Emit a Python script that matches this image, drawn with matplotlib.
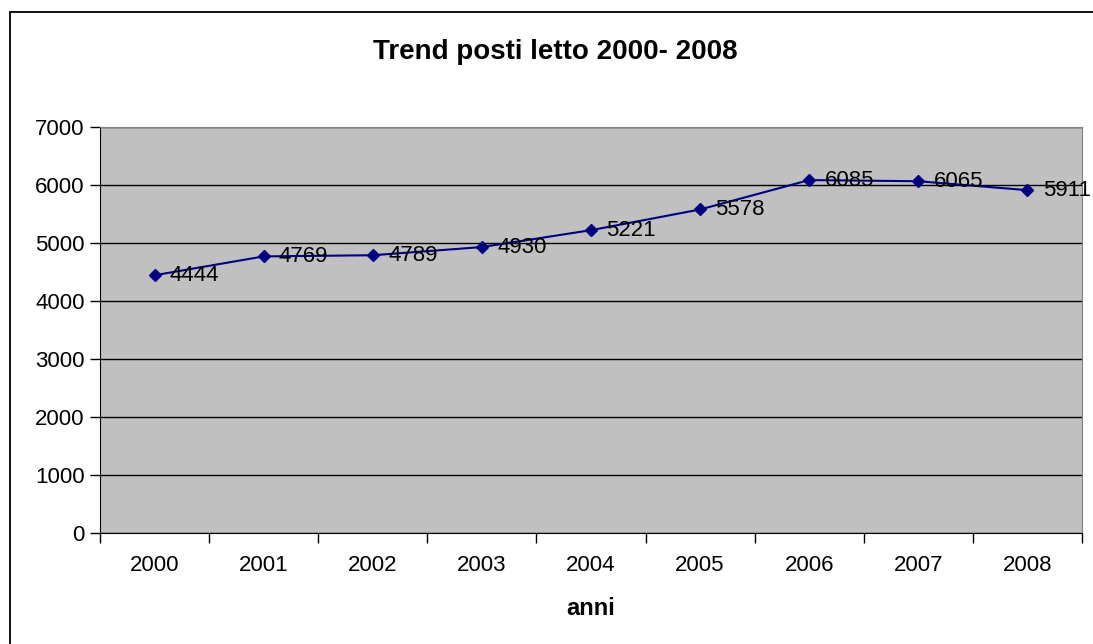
import numpy as np
import matplotlib.pyplot as plt
from matplotlib.patches import Rectangle

plt.rcParams['font.family'] = ['Liberation Sans', 'DejaVu Sans']

# dati
anni = ['2000', '2001', '2002', '2003', '2004', '2005', '2006', '2007', '2008']
posti_letto = [4444, 4769, 4789, 4930, 5221, 5578, 6085, 6065, 5911]

fig = plt.figure(figsize=(10.93, 6.44), dpi=100)
ax = fig.add_axes([100 / 1093, 1 - 533 / 644, 982 / 1093, 406 / 644])

# cornice del grafico
fig.patches.append(Rectangle((10 / 1093, -0.5), 1.5, 1 - 12 / 644 + 0.5,
                             transform=fig.transFigure, fill=False,
                             edgecolor='black', linewidth=1.3, zorder=0))

x = np.arange(len(anni))
ax.set_facecolor('#c0c0c0')
ax.plot(x, posti_letto, color='#000080', linewidth=1.5, marker='D',
        markersize=6.5, zorder=3)
for xi, v in zip(x, posti_letto):
    ax.annotate(str(v), (xi, v), xytext=(11, 0), textcoords='offset points',
                va='center', ha='left', fontsize=16, color='black',
                annotation_clip=False, zorder=4)

ax.set_ylim(0, 7000)
ax.set_xlim(-0.5, len(anni) - 0.5)
ax.set_yticks(np.arange(0, 7001, 1000))
ax.yaxis.grid(True, color='black', linewidth=1)
ax.set_axisbelow(True)

ax.set_xticks(x)
ax.set_xticklabels(anni)
ax.set_xticks(np.arange(-0.5, len(anni), 1), minor=True)
ax.tick_params(axis='x', which='major', length=0, pad=16, labelsize=16)
ax.tick_params(axis='x', which='minor', length=7, direction='out', width=1)
ax.tick_params(axis='y', length=7, direction='out', width=1, pad=4, labelsize=16)

for s in ['top', 'right']:
    ax.spines[s].set_color('#808080')
for s in ['left', 'bottom']:
    ax.spines[s].set_color('black')

ax.set_xlabel('anni', fontsize=17, fontweight='bold', labelpad=15)
fig.text(555 / 1093, 1 - 52 / 644, 'Trend posti letto 2000- 2008',
         ha='center', va='center', fontsize=20, fontweight='bold')

plt.savefig('out.png', dpi=100)
